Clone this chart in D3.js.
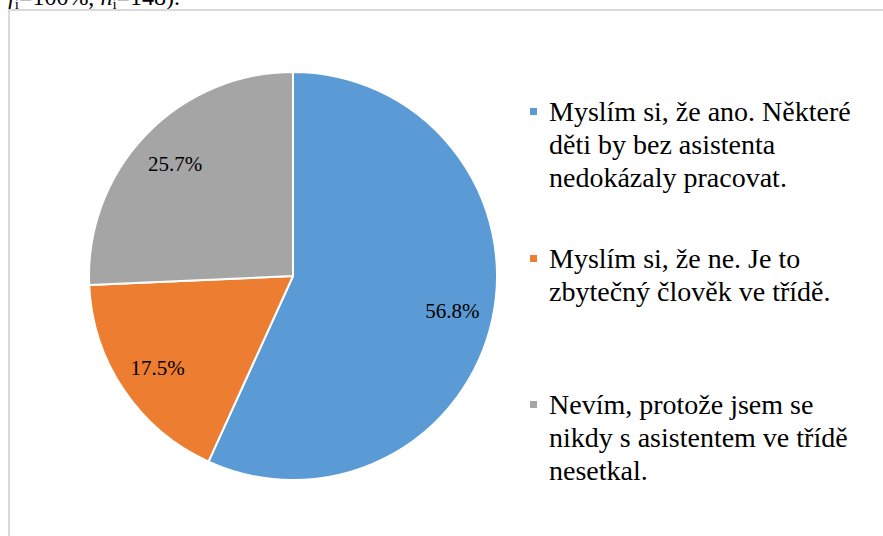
<!DOCTYPE html>
<html lang="cs">
<head>
    <meta charset="utf-8">
    <title>Pie chart</title>
    <script src="https://cdn.jsdelivr.net/npm/d3@7"></script>
    <style>
        body { margin: 0; overflow: hidden; background: #fff; }
        svg { display: block; }
    </style>
</head>
<body>
    <script>
        // data
        var legendLines = [
            ["Myslím si, že ano. Některé", "děti by bez asistenta", "nedokázaly pracovat."],
            ["Myslím si, že ne. Je to", "zbytečný člověk ve třídě."],
            ["Nevím, protože jsem se", "nikdy s asistentem ve třídě", "nesetkal."]
        ];
        var values = [56.8, 17.5, 25.7];
        var colors = ["#5b9bd5", "#ed7d31", "#a5a5a5"];

        var width = 883, height = 536;
        var cx = 293, cy = 276, radius = 204;
        var serif = "Tinos, 'Times New Roman', 'Liberation Serif', 'DejaVu Serif', serif";

        var svg = d3.select("body").append("svg")
            .attr("width", width)
            .attr("height", height);

        // caption text cut off at top of the crop
        var cap = svg.append("text")
            .attr("x", 8)
            .attr("y", 5)
            .attr("font-family", serif)
            .attr("font-size", 24)
            .attr("fill", "#000");
        cap.append("tspan").attr("font-style", "italic").text("f");
        cap.append("tspan").attr("font-size", 15).attr("dy", 4).text("i");
        cap.append("tspan").attr("dy", -4).text("=100%, ");
        cap.append("tspan").attr("font-style", "italic").text("n");
        cap.append("tspan").attr("font-size", 15).attr("dy", 4).text("i");
        cap.append("tspan").attr("dy", -4).text("=148).");

        // chart frame (top and left edges visible)
        svg.append("path")
            .attr("d", "M9," + height + "V10H" + width)
            .attr("fill", "none")
            .attr("stroke", "#d9d9d9")
            .attr("stroke-width", 2);

        var pie = d3.pie().sort(null).value(function(d) { return d; });
        var arc = d3.arc().innerRadius(0).outerRadius(radius);
        var labelArc = d3.arc().innerRadius(radius * 0.8).outerRadius(radius * 0.8);

        var g = svg.append("g").attr("transform", "translate(" + cx + "," + cy + ")");

        var slices = g.selectAll(".slice")
            .data(pie(values))
            .enter().append("g")
            .attr("class", "slice");

        slices.append("path")
            .attr("d", arc)
            .attr("fill", function(d, i) { return colors[i]; })
            .attr("stroke", "#fff")
            .attr("stroke-width", 2)
            .attr("stroke-linejoin", "round");

        slices.append("text")
            .attr("transform", function(d) {
                var c = labelArc.centroid(d);
                return "translate(" + c[0] + "," + c[1] + ")";
            })
            .attr("dy", "0.35em")
            .attr("text-anchor", "middle")
            .attr("font-family", serif)
            .attr("font-size", 21)
            .attr("fill", "#000")
            .text(function(d) { return d.data.toFixed(1) + "%"; });

        // legend
        var legendY = [121, 268, 414];
        var lineH = 33;
        var legend = svg.selectAll(".legend")
            .data(legendLines)
            .enter().append("g")
            .attr("class", "legend")
            .attr("transform", function(d, i) { return "translate(530," + legendY[i] + ")"; });

        legend.append("rect")
            .attr("x", 0)
            .attr("y", -13)
            .attr("width", 7)
            .attr("height", 7)
            .attr("fill", function(d, i) { return colors[i]; });

        legend.append("text")
            .attr("x", 19)
            .attr("font-family", serif)
            .attr("font-size", 28)
            .attr("fill", "#000")
            .selectAll("tspan")
            .data(function(d) { return d; })
            .enter().append("tspan")
            .attr("x", 19)
            .attr("y", function(d, j) { return j * lineH; })
            .text(function(d) { return d; });
    </script>
</body>
</html>
